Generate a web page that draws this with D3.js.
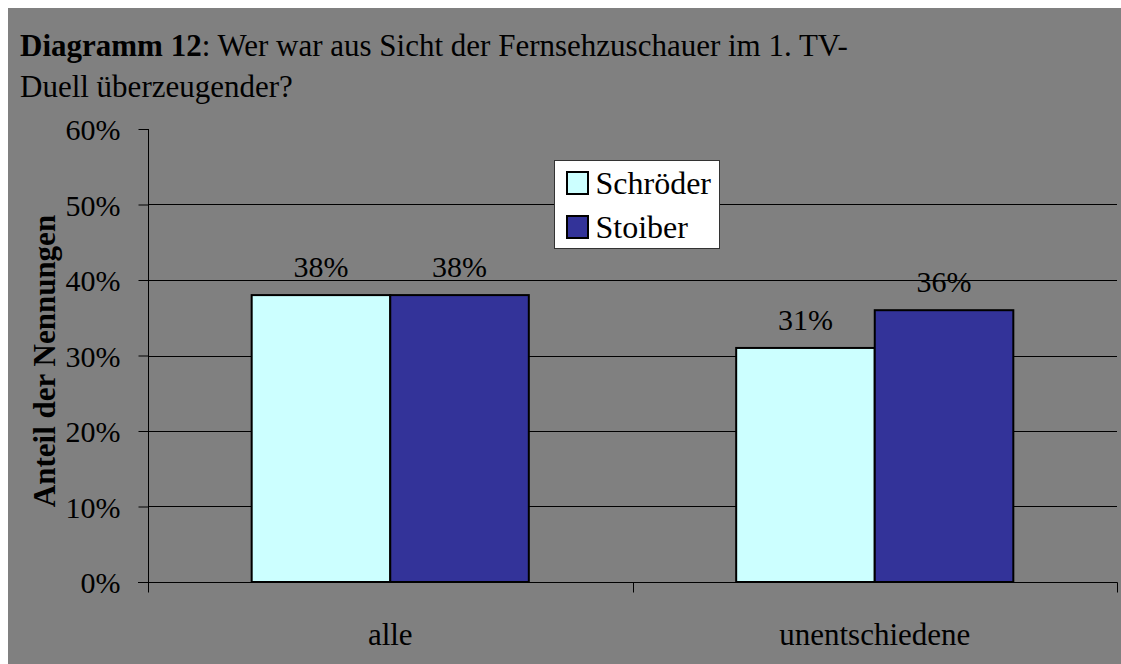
<!DOCTYPE html>
<html>
<head>
<meta charset="utf-8">
<script src="https://cdn.jsdelivr.net/npm/d3@7"></script>
<style>
  body { margin: 0; background: #fff; }
  text { font-family: "Liberation Serif", "Times New Roman", serif; fill: #000; }
</style>
</head>
<body>
<script>
var categories = ["alle", "unentschiedene"];
var seriesNames = ["Schröder", "Stoiber"];
var schroeder = [0.38, 0.31];
var stoiber = [0.38, 0.36];
var yTicks = [0, 0.1, 0.2, 0.3, 0.4, 0.5, 0.6];
var colors = ["#ccffff", "#333399"];

var W = 1121, H = 664;
var pLeft = 148, pRight = 1117, pTop = 129, pBottom = 582;

var svg = d3.select("body").append("svg")
  .attr("width", W)
  .attr("height", H);

// grey chart area
svg.append("rect")
  .attr("x", 8).attr("y", 8)
  .attr("width", W - 8).attr("height", H - 8)
  .attr("fill", "#808080");

// title
var title = svg.append("text").attr("x", 20).attr("y", 56)
  .style("font-size", "31px");
title.append("tspan").style("font-weight", "bold").text("Diagramm 12");
title.append("tspan").text(": Wer war aus Sicht der Fernsehzuschauer im 1. TV-");
svg.append("text").attr("x", 20).attr("y", 97)
  .style("font-size", "31px")
  .text("Duell überzeugender?");

var y = d3.scaleLinear().domain([0, 0.6]).range([pBottom, pTop]);
var x0 = d3.scaleBand().domain(categories).range([pLeft, pRight])
  .paddingInner(0.428).paddingOuter(0.214);
var x1 = d3.scaleBand().domain(seriesNames).range([0, x0.bandwidth()]);

// gridlines
svg.append("g").selectAll("line")
  .data(yTicks.filter(function(d) { return d > 0 && d < 0.6; }))
  .enter().append("line")
  .attr("x1", pLeft).attr("x2", pRight)
  .attr("y1", function(d) { return Math.round(y(d)) + 0.5; })
  .attr("y2", function(d) { return Math.round(y(d)) + 0.5; })
  .attr("stroke", "#000").attr("stroke-width", 1);

// y axis
var yAxis = svg.append("g")
  .attr("transform", "translate(" + (pLeft + 0.5) + ",0)")
  .call(d3.axisLeft(y).tickValues(yTicks).tickFormat(d3.format(".0%")).tickSize(10).tickPadding(18));
yAxis.select(".domain").attr("stroke", "#000").attr("d", "M0," + pTop + "V" + (pBottom + 10));
yAxis.selectAll(".tick line").attr("stroke", "#000");
yAxis.selectAll(".tick text").style("font-size", "30px")
  .attr("font-family", null).attr("dy", "0.35em");

// x axis
var xAxis = svg.append("g")
  .attr("transform", "translate(0," + (pBottom + 0.5) + ")");
xAxis.append("line").attr("x1", pLeft - 10).attr("x2", pRight + 0.5)
  .attr("stroke", "#000");
xAxis.selectAll(".xt").data([pLeft, (pLeft + pRight) / 2, pRight])
  .enter().append("line").attr("class", "xt")
  .attr("x1", function(d) { return Math.round(d) + 0.5; })
  .attr("x2", function(d) { return Math.round(d) + 0.5; })
  .attr("y1", 0).attr("y2", 10).attr("stroke", "#000");
xAxis.selectAll(".cat").data(categories)
  .enter().append("text").attr("class", "cat")
  .attr("x", function(d) { return x0(d) + x0.bandwidth() / 2; })
  .attr("y", 62)
  .attr("text-anchor", "middle")
  .style("font-size", "31px")
  .text(function(d) { return d; });

// bars
var rows = categories.map(function(c, i) {
  return { cat: c, values: [schroeder[i], stoiber[i]] };
});
var groups = svg.append("g").selectAll("g")
  .data(rows).enter().append("g")
  .attr("transform", function(d) { return "translate(" + x0(d.cat) + ",0)"; });
groups.selectAll("rect")
  .data(function(d) { return d.values.map(function(v, j) { return { name: seriesNames[j], v: v, j: j }; }); })
  .enter().append("rect")
  .attr("x", function(d) { return x1(d.name); })
  .attr("y", function(d) { return y(d.v); })
  .attr("width", x1.bandwidth())
  .attr("height", function(d) { return pBottom - y(d.v); })
  .attr("fill", function(d) { return colors[d.j]; })
  .attr("stroke", "#000").attr("stroke-width", 2);
groups.selectAll("text.lbl")
  .data(function(d) { return d.values.map(function(v, j) { return { name: seriesNames[j], v: v }; }); })
  .enter().append("text").attr("class", "lbl")
  .attr("x", function(d) { return x1(d.name) + x1.bandwidth() / 2; })
  .attr("y", function(d) { return y(d.v) - 18; })
  .attr("text-anchor", "middle")
  .style("font-size", "30px")
  .text(function(d) { return d3.format(".0%")(d.v); });

// y axis title
svg.append("text")
  .attr("transform", "translate(55,361) rotate(-90)")
  .attr("text-anchor", "middle")
  .style("font-size", "31px").style("font-weight", "bold")
  .text("Anteil der Nennungen");

// legend
var lg = svg.append("g").attr("transform", "translate(554.5,160.5)");
lg.append("rect").attr("width", 165).attr("height", 88)
  .attr("fill", "#fff").attr("stroke", "#333").attr("stroke-width", 1);
var li = lg.selectAll("g").data(seriesNames).enter().append("g")
  .attr("transform", function(d, i) { return "translate(0," + (i * 44) + ")"; });
li.append("rect").attr("x", 12.5).attr("y", 11.5).attr("width", 21).attr("height", 22)
  .attr("fill", function(d, i) { return colors[i]; })
  .attr("stroke", "#000").attr("stroke-width", 2);
li.append("text").attr("x", 41).attr("y", 33.5)
  .style("font-size", "32px")
  .text(function(d) { return d; });
</script>
</body>
</html>
